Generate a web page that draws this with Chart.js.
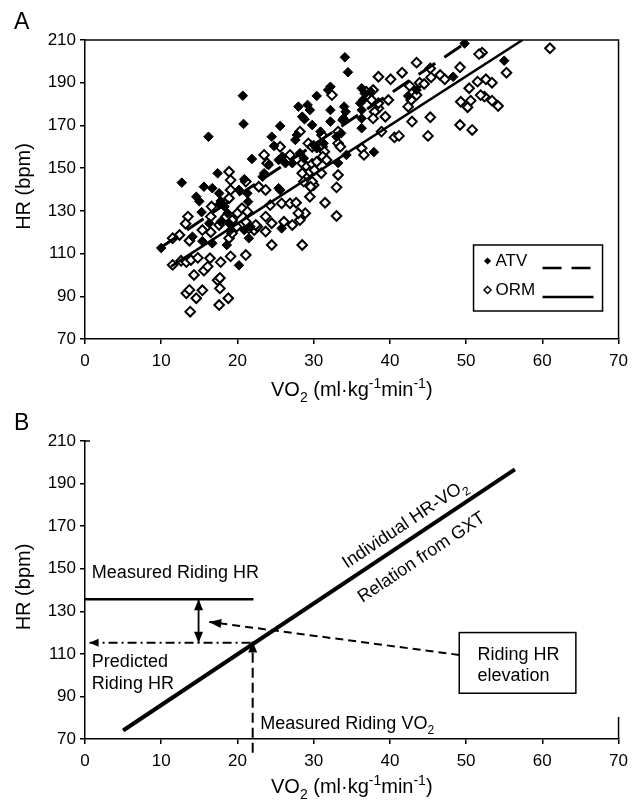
<!DOCTYPE html>
<html>
<head>
<meta charset="utf-8">
<script src="https://cdn.jsdelivr.net/npm/chart.js@4.4.1/dist/chart.umd.min.js"></script>
<style>
  html, body { margin: 0; padding: 0; background: #fff; }
  #wrap { position: relative; width: 635px; height: 802px; }
  canvas { position: absolute; left: 0; }
  #chartA { top: 0; }
  #chartB { top: 401px; }
</style>
</head>
<body>
<div id="wrap">
  <canvas id="chartA" width="635" height="420"></canvas>
  <canvas id="chartB" width="635" height="401"></canvas>
</div>
<script>
const FONT = '"Liberation Sans", Arial, Helvetica, sans-serif';

const xTickValues = [0, 10, 20, 30, 40, 50, 60, 70];
const yTickValues = [70, 90, 110, 130, 150, 170, 190, 210];

// Panel A - ATV (filled diamonds)
const atvVO2 = [10.0, 12.7, 15.6, 17.4, 16.2, 20.7, 20.8, 21.9, 20.9, 21.4,
  14.6, 15.0, 15.3, 14.1, 15.4, 16.7, 18.6, 20.2, 17.8, 18.9,
  19.1, 17.6, 17.8, 18.3, 18.7, 21.5, 21.7, 20.9, 16.3, 20.2,
  21.3, 16.7, 17.6, 25.6, 25.6, 24.5, 24.8, 28.0, 29.2, 28.5,
  29.5, 28.8, 29.8, 30.4, 32.2, 31.9, 34.1, 34.5, 32.2, 32.2,
  34.0, 34.2, 33.9, 27.6, 27.8, 30.9, 25.9, 26.3, 25.4, 23.5,
  23.3, 24.1, 28.2, 28.7, 30.0, 30.4, 27.2, 25.4, 33.2, 34.3,
  25.8, 31.3, 33.0, 33.6, 36.3, 36.7, 36.5, 37.5, 36.1, 36.3,
  36.3, 37.9, 36.3, 43.5, 42.4, 48.3, 55.0, 49.8];
const atvHR = [112.6, 143.2, 141.3, 147.6, 164.7, 183.9, 170.7, 154.3, 144.8, 134.3,
  136.6, 134.5, 129.4, 117.9, 115.8, 114.8, 114.0, 104.5, 124.9, 124.2,
  121.0, 133.0, 134.6, 132.0, 128.9, 117.2, 122.6, 121.0, 124.2, 139.8,
  138.2, 140.6, 138.2, 139.8, 169.7, 164.7, 160.4, 178.8, 179.6, 174.1,
  177.2, 172.9, 170.2, 183.8, 188.1, 186.6, 201.9, 194.9, 177.2, 171.8,
  178.8, 176.4, 173.3, 163.2, 165.5, 167.1, 155.4, 152.3, 153.8, 147.6,
  146.0, 151.5, 157.0, 154.6, 160.8, 159.3, 152.3, 140.6, 152.4, 156.2,
  121.8, 161.6, 164.7, 166.3, 187.4, 185.0, 182.0, 185.8, 180.4, 173.3,
  168.7, 157.5, 177.2, 186.6, 183.8, 192.8, 200.3, 208.4];

// Panel A - ORM (open diamonds)
const ormVO2 = [13.8, 13.3, 13.7, 14.6, 15.4, 17.6, 17.7, 18.8, 17.4, 17.7,
  14.3, 15.6, 16.1, 16.4, 17.8, 19.1, 11.5, 12.6, 13.3, 13.9,
  14.8, 11.5, 12.4, 13.7, 13.5, 13.2, 15.4, 16.5, 17.6, 18.9,
  19.3, 20.0, 20.6, 21.3, 21.1, 22.2, 22.6, 18.9, 19.1, 19.1,
  18.9, 16.6, 18.5, 19.9, 19.3, 16.5, 21.1, 21.1, 23.9, 23.5,
  25.6, 28.2, 22.8, 23.7, 23.7, 24.3, 25.8, 26.9, 27.7, 23.7,
  24.5, 24.5, 26.1, 27.2, 28.2, 28.9, 28.0, 28.5, 29.5, 30.0,
  32.4, 33.9, 33.2, 33.2, 33.5, 26.9, 29.3, 29.8, 31.1, 31.4,
  31.2, 28.5, 29.1, 29.8, 30.4, 28.5, 29.5, 30.1, 31.0, 31.7,
  28.7, 29.8, 29.6, 33.2, 33.0, 31.5, 33.0, 22.4, 21.5, 31.1,
  61.0, 52.1, 51.7, 55.3, 49.2, 50.4, 51.5, 52.6, 53.4, 49.3,
  50.6, 50.2, 52.4, 53.4, 54.2, 49.2, 50.8, 45.3, 42.9, 45.0,
  40.6, 41.2, 43.5, 41.6, 40.1, 38.5, 45.3, 45.4, 46.6, 47.2,
  43.9, 44.5, 42.6, 43.5, 42.8, 42.4, 39.4, 38.5, 38.0, 38.9,
  36.3, 36.6, 36.9, 37.8, 39.8, 37.6, 38.5, 37.8, 51.9];
const ormHR = [82.8, 91.4, 93.0, 89.1, 92.8, 85.9, 93.7, 89.1, 97.5, 98.6,
  100.0, 102.0, 103.9, 107.8, 106.0, 108.7, 104.7, 106.6, 106.0, 107.0,
  108.0, 117.2, 118.7, 116.0, 127.3, 124.0, 121.0, 127.3, 123.4, 117.2,
  125.7, 128.9, 131.2, 129.6, 124.9, 121.0, 122.6, 148.3, 144.4, 139.8,
  135.9, 132.0, 127.3, 122.6, 119.5, 120.0, 109.3, 143.7, 152.3, 156.2,
  160.0, 167.1, 141.3, 139.8, 127.3, 132.7, 133.5, 133.5, 133.8, 120.3,
  124.2, 114.0, 124.9, 123.4, 125.7, 128.9, 128.9, 114.0, 136.6, 142.1,
  184.2, 172.5, 167.1, 161.6, 160.0, 156.2, 161.6, 160.0, 160.0, 157.7,
  155.4, 152.3, 150.7, 152.0, 153.0, 147.6, 148.3, 149.1, 147.6, 153.8,
  143.7, 143.7, 141.3, 146.8, 141.0, 133.8, 127.6, 123.4, 121.8, 165.5,
  206.1, 204.1, 203.4, 194.7, 197.2, 187.4, 190.5, 191.6, 190.0, 181.1,
  181.6, 178.5, 183.5, 181.6, 179.1, 170.2, 167.9, 173.8, 171.8, 165.1,
  164.4, 165.1, 199.4, 194.7, 191.6, 192.8, 196.7, 192.5, 193.6, 191.6,
  190.0, 189.4, 188.5, 184.2, 181.9, 178.8, 174.1, 178.0, 176.4, 167.1,
  159.3, 156.2, 185.8, 186.6, 181.9, 181.9, 180.4, 173.3, 184.2];

// Panel A - regression lines (end points)
const atvFitVO2 = [10.0, 50.5];
const atvFitHR = [113, 210];
const ormFitVO2 = [11.3, 57.4];
const ormFitHR = [104, 210];

// Panel B - schematic
const gxtVO2 = [5.0, 56.4];
const gxtHR = [74.0, 196.7];
const measuredHrVO2 = [0, 22.1];
const measuredHrHR = [135.6, 135.6];
const predictedVO2 = [0.6, 22.0];
const predictedHR = [115.2, 115.2];
const ridingVO2X = [22.0, 22.0];
const ridingVO2Y = [63.5, 115.8];
const elevationVO2 = [14.9, 14.9];
const elevationHR = [115.2, 135.6];
const calloutVO2 = [49.1, 16.3];
const calloutHR = [109.5, 125.0];

const pts = (xs, ys) => xs.map((x, i) => ({ x: x, y: ys[i] }));

function axisOptions(bottomSpace) {
  const tickFont = { family: FONT, size: 17 };
  return {
    x: {
      type: 'linear', min: 0, max: 70,
      afterBuildTicks: s => { s.ticks = xTickValues.map(v => ({ value: v })); },
      grid: { drawOnChartArea: false, color: '#000', lineWidth: 1.5, tickLength: 5 },
      border: { color: '#000', width: 1.5 },
      ticks: { color: '#000', font: tickFont, padding: 7, maxRotation: 0, autoSkip: false },
      afterFit: s => { s.height = bottomSpace; }
    },
    y: {
      type: 'linear', min: 70, max: 210,
      afterBuildTicks: s => { s.ticks = yTickValues.map(v => ({ value: v })); },
      grid: { drawOnChartArea: false, color: '#000', lineWidth: 1.5, tickLength: 5 },
      border: { color: '#000', width: 1.5 },
      ticks: { color: '#000', font: tickFont, padding: 4, autoSkip: false },
      afterFit: s => { s.width = 85; }
    }
  };
}

// text with sub/superscripts: parts = [[text, 0 normal | 1 sub | 2 sup], ...]
function drawRich(ctx, parts, x, y, size, align) {
  const small = Math.round(size * 0.68);
  const fontOf = m => (m ? small : size) + 'px ' + FONT;
  let w = 0;
  parts.forEach(([t, m]) => { ctx.font = fontOf(m); w += ctx.measureText(t).width; });
  let cx = align === 'center' ? x - w / 2 : x;
  ctx.textAlign = 'left';
  ctx.textBaseline = 'alphabetic';
  parts.forEach(([t, m]) => {
    ctx.font = fontOf(m);
    const dy = m === 1 ? size * 0.3 : (m === 2 ? -size * 0.4 : 0);
    ctx.fillText(t, cx, y + dy);
    cx += ctx.measureText(t).width;
  });
}

const VO2_TITLE = [['VO', 0], ['2', 1], [' (ml\u00b7kg', 0], ['-1', 2], ['min', 0], ['-1', 2], [')', 0]];

function drawCommonTitles(ctx, a, letter, titleBaseline) {
  ctx.fillStyle = '#000';
  ctx.font = '23px ' + FONT;
  ctx.textAlign = 'left';
  ctx.textBaseline = 'middle';
  ctx.fillText(letter, 14, 23);

  ctx.save();
  ctx.translate(24, (a.top + a.bottom) / 2 - 3);
  ctx.rotate(-Math.PI / 2);
  ctx.font = '20px ' + FONT;
  ctx.textAlign = 'center';
  ctx.textBaseline = 'middle';
  ctx.fillText('HR (bpm)', 0, 0);
  ctx.restore();

  drawRich(ctx, VO2_TITLE, (a.left + a.right) / 2, titleBaseline, 20, 'center');
}

function diamond(ctx, x, y, r, filled) {
  ctx.beginPath();
  ctx.moveTo(x, y - r); ctx.lineTo(x + r, y); ctx.lineTo(x, y + r); ctx.lineTo(x - r, y);
  ctx.closePath();
  if (filled) { ctx.fillStyle = '#000'; ctx.fill(); }
  else { ctx.fillStyle = '#fff'; ctx.fill(); ctx.lineWidth = 1.4; ctx.strokeStyle = '#000'; ctx.stroke(); }
}

const panelAExtras = {
  id: 'panelAExtras',
  afterDraw(chart) {
    const { ctx, chartArea: a } = chart;
    ctx.save();
    ctx.strokeStyle = '#000';
    ctx.lineWidth = 1.5;
    ctx.beginPath();
    ctx.moveTo(a.left, a.top);
    ctx.lineTo(a.right, a.top);
    ctx.lineTo(a.right, a.bottom);
    ctx.stroke();

    drawCommonTitles(ctx, a, 'A', 396);

    // legend box
    const bx = a.right - 145, by = a.bottom - 94, bw = 129, bh = 66;
    ctx.fillStyle = '#fff';
    ctx.fillRect(bx, by, bw, bh);
    ctx.lineWidth = 1.5;
    ctx.strokeStyle = '#000';
    ctx.strokeRect(bx, by, bw, bh);
    diamond(ctx, bx + 14, by + 16, 3.6, true);
    diamond(ctx, bx + 14, by + 45, 3.6, false);
    ctx.fillStyle = '#000';
    ctx.font = '17px ' + FONT;
    ctx.textAlign = 'left';
    ctx.textBaseline = 'middle';
    ctx.fillText('ATV', bx + 22, by + 16);
    ctx.fillText('ORM', bx + 22, by + 45);
    ctx.lineWidth = 2.5;
    ctx.setLineDash([19, 10]);
    ctx.beginPath();
    ctx.moveTo(bx + 69, by + 23); ctx.lineTo(bx + 118, by + 23);
    ctx.stroke();
    ctx.setLineDash([]);
    ctx.beginPath();
    ctx.moveTo(bx + 69, by + 52); ctx.lineTo(bx + 120, by + 52);
    ctx.stroke();
    ctx.restore();
  }
};

function arrowHead(ctx, tipX, tipY, fromX, fromY, len, half) {
  const ang = Math.atan2(tipY - fromY, tipX - fromX);
  const bx = tipX - len * Math.cos(ang), by = tipY - len * Math.sin(ang);
  ctx.beginPath();
  ctx.moveTo(tipX, tipY);
  ctx.lineTo(bx + half * Math.sin(ang), by - half * Math.cos(ang));
  ctx.lineTo(bx - half * Math.sin(ang), by + half * Math.cos(ang));
  ctx.closePath();
  ctx.fill();
}

const panelBExtras = {
  id: 'panelBExtras',
  afterDraw(chart) {
    const { ctx, chartArea: a, scales: { x, y } } = chart;
    const px = v => x.getPixelForValue(v);
    const py = v => y.getPixelForValue(v);
    ctx.save();
    ctx.strokeStyle = '#000';
    ctx.fillStyle = '#000';
    ctx.lineWidth = 1.5;
    ctx.beginPath();
    ctx.moveTo(a.right, a.bottom); ctx.lineTo(a.right, a.bottom - 22);
    ctx.moveTo(a.left, a.top); ctx.lineTo(a.left + 5, a.top);
    ctx.stroke();

    drawCommonTitles(ctx, a, 'B', 392);

    // arrow heads
    arrowHead(ctx, px(predictedVO2[0]), py(predictedHR[0]), px(predictedVO2[1]), py(predictedHR[1]), 9, 4);
    arrowHead(ctx, px(ridingVO2X[1]), py(ridingVO2Y[1]), px(ridingVO2X[0]), py(ridingVO2Y[0]), 11, 4.5);
    arrowHead(ctx, px(elevationVO2[1]), py(elevationHR[1]), px(elevationVO2[0]), py(elevationHR[0]), 11, 4.5);
    arrowHead(ctx, px(elevationVO2[0]), py(elevationHR[0]), px(elevationVO2[1]), py(elevationHR[1]), 11, 4.5);
    arrowHead(ctx, px(calloutVO2[1]), py(calloutHR[1]), px(calloutVO2[0]), py(calloutHR[0]), 12, 4.5);

    // callout box
    ctx.fillStyle = '#fff';
    const l = px(49.1), r = px(64.4), t = py(120), b = py(91.5);
    ctx.fillRect(l, t, r - l, b - t);
    ctx.lineWidth = 1.5;
    ctx.strokeRect(l, t, r - l, b - t);

    ctx.fillStyle = '#000';
    ctx.font = '18px ' + FONT;
    ctx.textAlign = 'left';
    ctx.textBaseline = 'middle';
    ctx.fillText('Riding HR', px(51.5), py(109.5));
    ctx.fillText('elevation', px(51.5), py(99.6));
    ctx.fillText('Measured Riding HR', px(0.9), py(147.8));
    ctx.fillText('Predicted', px(0.9), py(106.3));
    ctx.fillText('Riding HR', px(0.9), py(95.8));
    drawRich(ctx, [['Measured Riding VO', 0], ['2', 1]], px(23.0), py(77.5) + 6, 18, 'left');

    // rotated labels along the GXT line
    const ang = Math.atan2(py(gxtHR[0]) - py(gxtHR[1]), px(gxtVO2[1]) - px(gxtVO2[0]));
    ctx.save();
    ctx.translate(px(41.9), py(171.3));
    ctx.rotate(-ang);
    drawRich(ctx, [['Individual HR-VO', 0], ['2', 1]], 0, 6, 18, 'center');
    ctx.restore();
    ctx.save();
    ctx.translate(px(44.1), py(155.6));
    ctx.rotate(-ang);
    drawRich(ctx, [['Relation from GXT', 0]], 0, 6, 18, 'center');
    ctx.restore();
    ctx.restore();
  }
};

const commonOptions = (bottomSpace) => ({
  responsive: false,
  animation: false,
  events: [],
  layout: { padding: { left: 0, right: 13, top: 40, bottom: 0 } },
  plugins: { legend: { display: false }, tooltip: { enabled: false } },
  scales: axisOptions(bottomSpace)
});

new Chart(document.getElementById('chartA'), {
  type: 'scatter',
  data: {
    datasets: [
      { label: 'ATV fit', data: pts(atvFitVO2, atvFitHR), showLine: true, pointRadius: 0,
        borderColor: '#000', borderWidth: 3, borderDash: [20, 11], order: 0 },
      { label: 'ORM fit', data: pts(ormFitVO2, ormFitHR), showLine: true, pointRadius: 0,
        borderColor: '#000', borderWidth: 2.5, order: 0 },
      { label: 'ATV', data: pts(atvVO2, atvHR), pointStyle: 'rectRot', pointRadius: 4.8,
        backgroundColor: '#000', borderColor: '#000', borderWidth: 1, order: 1 },
      { label: 'ORM', data: pts(ormVO2, ormHR), pointStyle: 'rectRot', pointRadius: 4.8,
        backgroundColor: '#fff', borderColor: '#000', borderWidth: 2, order: 2 }
    ]
  },
  options: commonOptions(81),
  plugins: [panelAExtras]
});

const lineSet = (data, extra) => Object.assign({
  data: data, showLine: true, pointRadius: 0, borderColor: '#000', borderWidth: 2, fill: false
}, extra);

new Chart(document.getElementById('chartB'), {
  type: 'scatter',
  data: {
    datasets: [
      lineSet(pts(gxtVO2, gxtHR), { label: 'GXT', borderWidth: 4 }),
      lineSet(pts(measuredHrVO2, measuredHrHR), { label: 'Measured HR', borderWidth: 2.5 }),
      lineSet(pts(predictedVO2, predictedHR), { label: 'Predicted HR', borderDash: [9, 4, 2, 4] }),
      lineSet(pts(ridingVO2X, ridingVO2Y), { label: 'Riding VO2', borderDash: [10, 5], clip: false }),
      lineSet(pts(elevationVO2, elevationHR), { label: 'Elevation', borderWidth: 1.8 }),
      lineSet(pts(calloutVO2, calloutHR), { label: 'Callout', borderDash: [8, 5] })
    ]
  },
  options: commonOptions(63),
  plugins: [panelBExtras]
});
</script>
</body>
</html>
